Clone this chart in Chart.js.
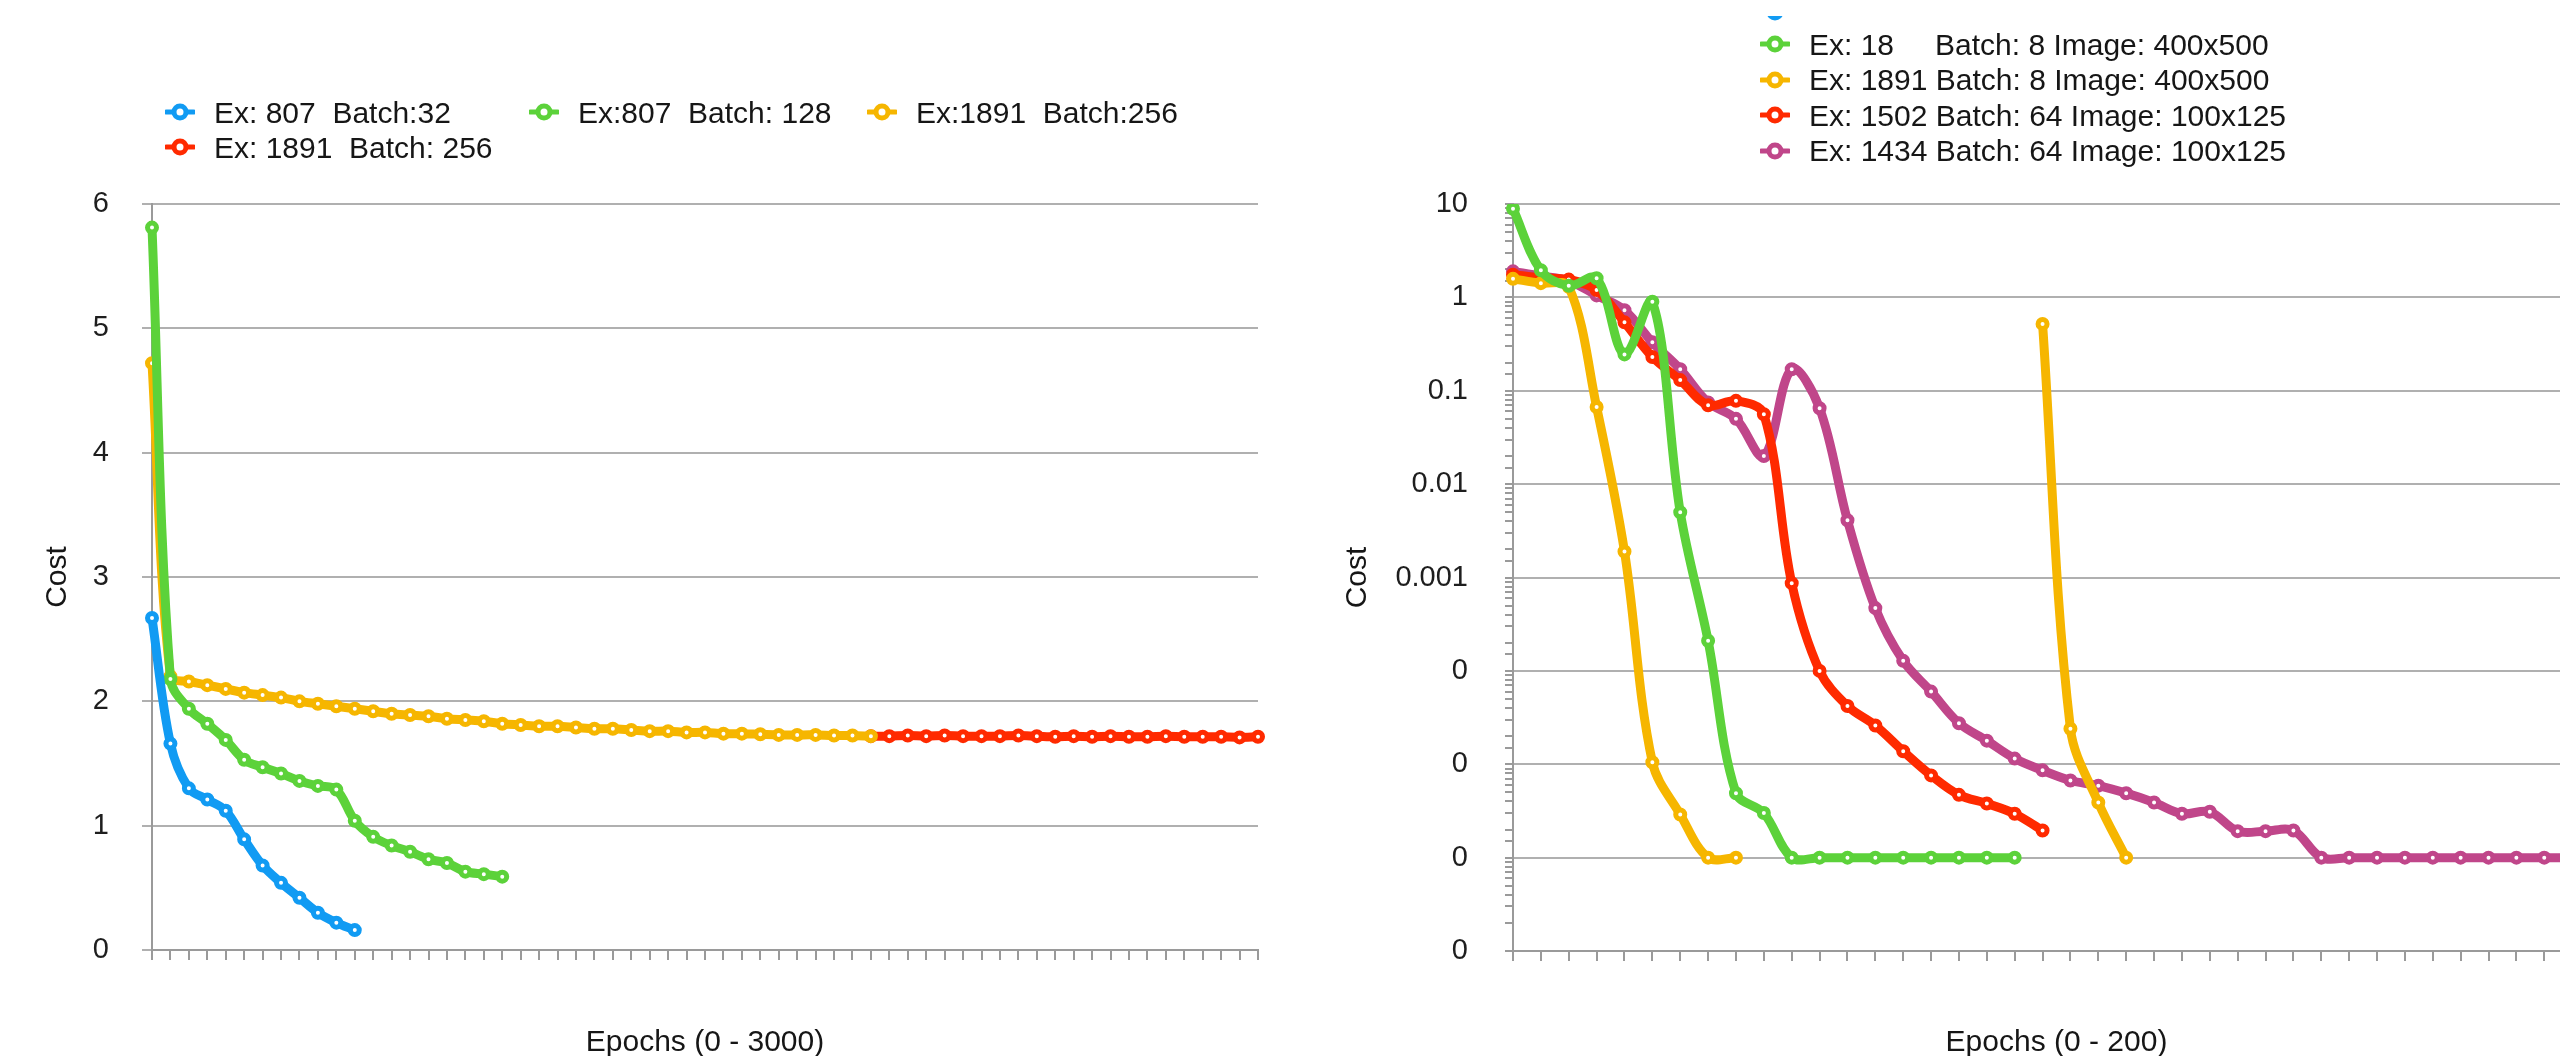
<!DOCTYPE html>
<html>
<head>
<meta charset="utf-8">
<title>Cost vs epochs</title>
<script src="https://cdn.jsdelivr.net/npm/chart.js@4.4.0/dist/chart.umd.min.js"></script>
<style>
  html, body { margin: 0; padding: 0; background: #fff; overflow: hidden; width: 2560px; height: 1056px; }
  #wrap { position: relative; width: 2560px; height: 1056px; overflow: hidden; }
  canvas { position: absolute; top: 0; }
  #leftChart { left: 0; }
  #rightChart { left: 1300px; }
  .legend { position: absolute; left: 0; top: 0; width: 2560px; height: 200px; overflow: hidden;
            font: 30px "Liberation Sans", Arial, Helvetica, sans-serif; color: #161616; }
  #rightLegend { top: 16px; }
  .item { position: absolute; height: 35px; line-height: 35px; display: flex; align-items: center; white-space: pre; }
  .item svg { margin-right: 19px; flex: none; }
  .item span { white-space: pre; tab-size: 126px; }
</style>
</head>
<body>
<div id="wrap">
  <canvas id="leftChart" width="1300" height="1056"></canvas>
  <canvas id="rightChart" width="1340" height="1056"></canvas>
  <div class="legend" id="leftLegend"></div>
  <div class="legend" id="rightLegend"></div>
</div>
<script>
// ---- left chart: epochs 0 - 3000 ----
const leftEpochs = ['0','50','100','150','200','250','300','350','400','450','500','550','600','650','700',
  '750','800','850','900','950','1000','1050','1100','1150','1200','1250','1300','1350','1400','1450',
  '1500','1550','1600','1650','1700','1750','1800','1850','1900','1950','2000','2050','2100','2150',
  '2200','2250','2300','2350','2400','2450','2500','2550','2600','2650','2700','2750','2800','2850',
  '2900','2950','3000'];

const leftLabels = ['Ex: 807  Batch:32', 'Ex:807  Batch: 128', 'Ex:1891  Batch:256', 'Ex: 1891  Batch: 256'];

const leftBlue = [2.67, 1.66, 1.30, 1.21, 1.12, 0.89, 0.68, 0.54, 0.42, 0.30, 0.22, 0.16];
const leftGreen = [5.81, 2.18, 1.94, 1.82, 1.69, 1.53, 1.47, 1.42, 1.36, 1.32, 1.29, 1.04, 0.91, 0.84,
  0.79, 0.73, 0.70, 0.63, 0.61, 0.59];
const leftOrange = [4.72, 2.20, 2.16, 2.13, 2.10, 2.07, 2.05, 2.03, 2.00, 1.98, 1.96, 1.94, 1.92, 1.90,
  1.89, 1.88, 1.86, 1.85, 1.84, 1.82, 1.81, 1.80, 1.80, 1.79, 1.78, 1.78, 1.77, 1.76, 1.76, 1.75,
  1.75, 1.74, 1.74, 1.735, 1.73, 1.73, 1.73, 1.725, 1.725, 1.72];
// red picks up where orange stops (epoch 1950)
const leftRedStart = '1950';
const leftRed = [1.72, 1.72, 1.725, 1.72, 1.725, 1.72, 1.72, 1.72, 1.725, 1.72, 1.715, 1.72, 1.715,
  1.72, 1.715, 1.715, 1.72, 1.715, 1.715, 1.715, 1.71, 1.715];

// ---- right chart: epochs 0 - 200, log cost ----
const rightEpochs = ['0','5','10','15','20','25','30','35','40','45','50','55','60','65','70','75',
  '80','85','90','95','100','105','110','115','120','125','130','135','140','145','150','155','160',
  '165','170','175','180','185','190','195'];

const rightTickLabels = ['10', '1', '0.1', '0.01', '0.001', '0', '0', '0', '0']; // 10^1 .. 10^-7

const rightLabels = ['', 'Ex: 18\tBatch: 8 Image: 400x500', 'Ex: 1891 Batch: 8 Image: 400x500',
  'Ex: 1502 Batch: 64 Image: 100x125', 'Ex: 1434 Batch: 64 Image: 100x125'];

const rightBlue = []; // legend entry only, nothing visible in the plot
const rightGreen = [8.9, 1.95, 1.33, 1.6, 0.245, 0.9, 0.005, 0.00021, 4.9e-6, 3.0e-6, 1e-6, 1e-6,
  1e-6, 1e-6, 1e-6, 1e-6, 1e-6, 1e-6, 1e-6];
const rightOrange = [1.58, 1.42, 1.3, 0.067, 0.0019, 1.05e-5, 2.9e-6, 1e-6, 1e-6,
  null, null, null, null, null, null, null, null, null, null,
  0.52, 2.4e-5, 3.9e-6, 1e-6];
const rightRed = [1.75, 1.62, 1.55, 1.2, 0.54, 0.23, 0.13, 0.07, 0.078, 0.056, 8.7e-4, 1e-4, 4.2e-5,
  2.6e-5, 1.38e-5, 7.6e-6, 4.7e-6, 3.8e-6, 2.95e-6, 1.95e-6];
const rightMagenta = [1.9, 1.7, 1.5, 1.05, 0.73, 0.33, 0.17, 0.075, 0.05, 0.02, 0.17, 0.065, 0.0041,
  4.7e-4, 1.28e-4, 6.0e-5, 2.75e-5, 1.79e-5, 1.15e-5, 8.6e-6, 6.7e-6, 5.9e-6, 4.9e-6, 3.9e-6,
  2.95e-6, 3.1e-6, 1.92e-6, 1.92e-6, 1.95e-6, 1e-6, 1e-6, 1e-6, 1e-6, 1e-6, 1e-6, 1e-6, 1e-6,
  1e-6, 1e-6, 1e-6];

const colors = {
  blue: '#119bf3',
  green: '#5cd23a',
  orange: '#f6b600',
  red: '#ff2a00',
  magenta: '#c0468a'
};
const gridColor = '#b0b0b0';
const axisColor = '#9a9a9a';
const textColor = '#1e1e1e';

Chart.defaults.font.family = '"Liberation Sans", Arial, Helvetica, sans-serif';
Chart.defaults.color = textColor;

function series(label, data, color) {
  return {
    label, data,
    borderColor: color,
    backgroundColor: color,
    borderWidth: 9,
    tension: 0.35,
    borderCapStyle: 'round',
    borderJoinStyle: 'round',
    pointRadius: 4.5,
    pointBorderWidth: 5,
    pointBackgroundColor: '#fff',
    pointBorderColor: color,
    fill: false
  };
}

const xTitle = text => ({
  display: true, text, color: '#161616',
  font: { size: 30 }, padding: { top: 0, bottom: -5 }
});
const yTitle = {
  display: true, text: 'Cost', color: '#161616',
  font: { size: 30 }, padding: { top: 40, bottom: 0 }
};

// left chart
new Chart(document.getElementById('leftChart'), {
  type: 'line',
  data: {
    labels: leftEpochs,
    datasets: [
      series(leftLabels[0], leftBlue, colors.blue),
      series(leftLabels[1], leftGreen, colors.green),
      series(leftLabels[2], leftOrange, colors.orange),
      series(leftLabels[3], leftRed.map((v, i) => ({ x: leftEpochs[leftEpochs.indexOf(leftRedStart) + i], y: v })), colors.red)
    ]
  },
  options: {
    responsive: false,
    animation: false,
    layout: { padding: { top: 204, right: 42, bottom: 0, left: 0 } },
    plugins: { legend: { display: false }, tooltip: { enabled: false } },
    scales: {
      x: {
        ticks: { display: false },
        grid: { drawOnChartArea: false, drawTicks: true, tickLength: 10, color: axisColor, lineWidth: 2 },
        border: { color: axisColor, width: 2 },
        title: xTitle('Epochs (0 - 3000)'),
        afterFit: s => { s.height = 106; }
      },
      y: {
        min: 0, max: 6,
        ticks: { stepSize: 1, padding: 33, font: { size: 29 }, color: textColor },
        grid: { color: gridColor, lineWidth: 2, tickLength: 10 },
        border: { color: axisColor, width: 2 },
        title: yTitle,
        afterFit: s => { s.width = 152; }
      }
    }
  }
});

// right chart
const isDecade = v => Math.abs(Math.log10(v) - Math.round(Math.log10(v))) < 1e-6;

new Chart(document.getElementById('rightChart'), {
  type: 'line',
  data: {
    labels: rightEpochs,
    datasets: [
      series(rightLabels[0], rightBlue, colors.blue),
      series(rightLabels[1], rightGreen, colors.green),
      series(rightLabels[2], rightOrange, colors.orange),
      series(rightLabels[3], rightRed, colors.red),
      series(rightLabels[4], rightMagenta, colors.magenta)
    ]
  },
  options: {
    responsive: false,
    animation: false,
    layout: { padding: { top: 204, right: 40, bottom: 0, left: 0 } },
    plugins: { legend: { display: false }, tooltip: { enabled: false } },
    scales: {
      x: {
        ticks: { display: false },
        grid: { drawOnChartArea: false, drawTicks: true, tickLength: 10, color: axisColor, lineWidth: 2 },
        border: { color: axisColor, width: 2 },
        title: xTitle('Epochs (0 - 200)'),
        afterFit: s => { s.height = 105; }
      },
      y: {
        type: 'logarithmic',
        min: 1e-7, max: 10,
        ticks: {
          autoSkip: false, padding: 37, font: { size: 29 }, color: textColor,
          callback: v => isDecade(v) ? rightTickLabels[1 - Math.round(Math.log10(v))] : ''
        },
        grid: {
          lineWidth: 2, tickLength: 8,
          color: c => (c.tick && isDecade(c.tick.value)) ? gridColor : 'rgba(0,0,0,0)',
          tickColor: axisColor
        },
        border: { color: axisColor, width: 2 },
        title: yTitle,
        afterFit: s => { s.width = 213; }
      }
    }
  }
});

// legends (HTML, laid out like the original)
function marker(color) {
  return '<svg width="30" height="20" viewBox="0 0 30 20">' +
    '<line x1="1.5" y1="10" x2="28.5" y2="10" stroke="' + color + '" stroke-width="5" stroke-linecap="round"/>' +
    '<circle cx="15" cy="10" r="6" fill="#fff" stroke="' + color + '" stroke-width="5"/></svg>';
}

function buildLegend(el, texts, cols, pos, offsetY) {
  texts.forEach((text, i) => {
    const item = document.createElement('div');
    item.className = 'item';
    item.style.left = (pos[i][0] - 15) + 'px';
    item.style.top = (pos[i][1] - 17.5 - offsetY) + 'px';
    item.innerHTML = marker(cols[i]);
    if (text) {
      const span = document.createElement('span');
      span.textContent = text;
      item.appendChild(span);
    }
    el.appendChild(item);
  });
}

buildLegend(document.getElementById('leftLegend'), leftLabels,
  [colors.blue, colors.green, colors.orange, colors.red],
  [[180, 112], [544, 112], [882, 112], [180, 147]], 0);

buildLegend(document.getElementById('rightLegend'), rightLabels,
  [colors.blue, colors.green, colors.orange, colors.red, colors.magenta],
  [[1775, 12], [1775, 44], [1775, 79.5], [1775, 115], [1775, 150.5]], 16);
</script>
</body>
</html>
